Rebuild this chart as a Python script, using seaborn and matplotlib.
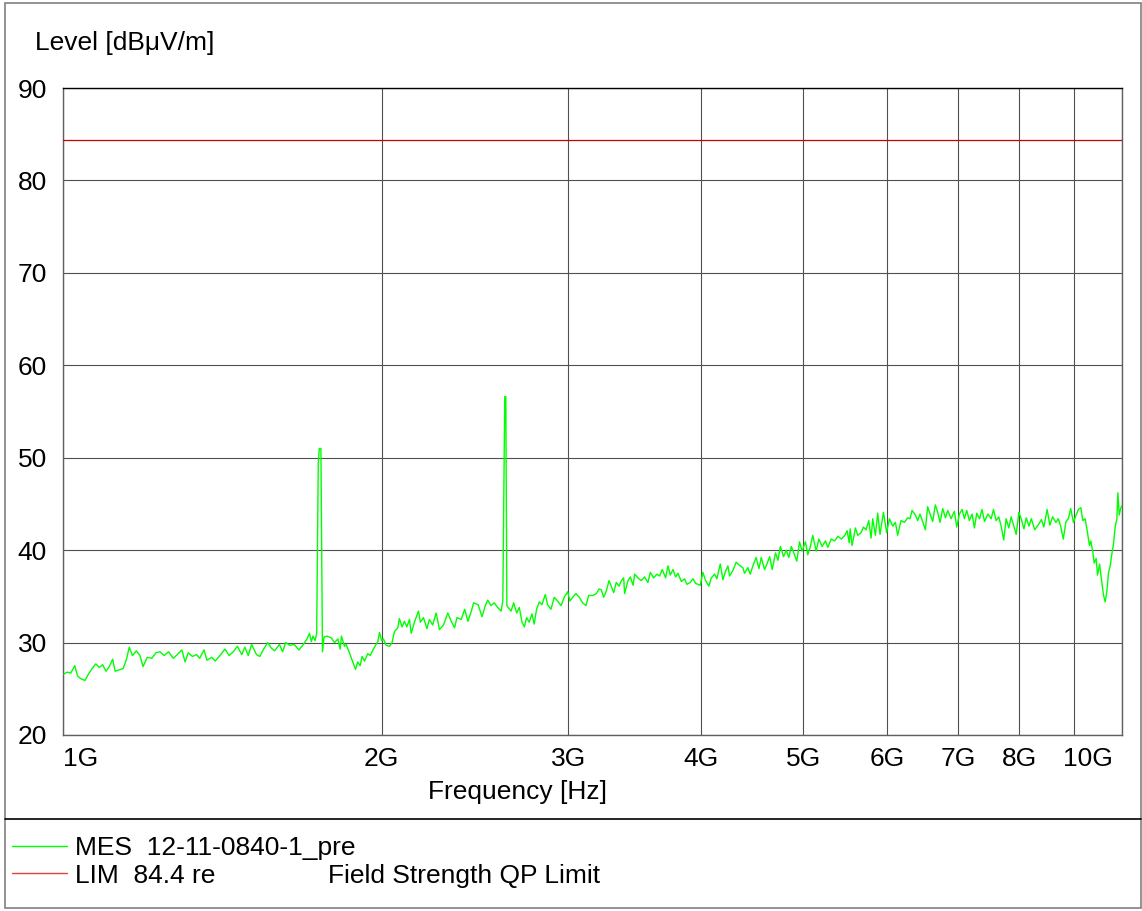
import matplotlib
matplotlib.use("Agg")
import matplotlib.pyplot as plt
import seaborn as sns
import pandas as pd
from matplotlib.lines import Line2D
from matplotlib.patches import Rectangle
from matplotlib.ticker import NullLocator

mes_freq_ghz = [
    1.002, 1.009, 1.017, 1.026, 1.032, 1.039, 1.049, 1.057, 1.064, 1.074,
    1.082, 1.090, 1.098, 1.106, 1.114, 1.120, 1.140, 1.148, 1.155, 1.163,
    1.173, 1.182, 1.190, 1.201, 1.213, 1.224, 1.235, 1.246, 1.258, 1.271,
    1.282, 1.295, 1.304, 1.313, 1.325, 1.337, 1.346, 1.359, 1.367, 1.382,
    1.392, 1.407, 1.422, 1.435, 1.448, 1.461, 1.475, 1.485, 1.496, 1.507,
    1.523, 1.534, 1.547, 1.561, 1.573, 1.584, 1.601, 1.612, 1.623, 1.637,
    1.653, 1.670, 1.684, 1.700, 1.709, 1.716, 1.722, 1.730, 1.736, 1.742,
    1.746, 1.752, 1.758, 1.764, 1.775, 1.792, 1.805, 1.818, 1.827, 1.832,
    1.844, 1.851, 1.864, 1.878, 1.889, 1.898, 1.908, 1.916, 1.926, 1.940,
    1.950, 1.964, 1.973, 1.983, 1.990, 1.999, 2.007, 2.019, 2.034, 2.045,
    2.056, 2.071, 2.078, 2.090, 2.101, 2.112, 2.124, 2.132, 2.147, 2.166,
    2.175, 2.190, 2.206, 2.218, 2.234, 2.251, 2.267, 2.287, 2.309, 2.326,
    2.343, 2.355, 2.377, 2.395, 2.412, 2.430, 2.442, 2.466, 2.487, 2.505,
    2.518, 2.536, 2.554, 2.573, 2.592, 2.602, 2.613, 2.619, 2.625, 2.649,
    2.664, 2.682, 2.697, 2.713, 2.727, 2.740, 2.756, 2.772, 2.786, 2.800,
    2.817, 2.833, 2.854, 2.868, 2.889, 2.910, 2.931, 2.953, 2.974, 2.996,
    3.011, 3.029, 3.050, 3.073, 3.095, 3.118, 3.136, 3.166, 3.189, 3.208,
    3.224, 3.240, 3.259, 3.278, 3.294, 3.311, 3.330, 3.350, 3.367, 3.384,
    3.391, 3.416, 3.433, 3.454, 3.466, 3.491, 3.516, 3.542, 3.567, 3.586,
    3.612, 3.638, 3.659, 3.680, 3.707, 3.726, 3.745, 3.767, 3.789, 3.808,
    3.836, 3.863, 3.883, 3.911, 3.934, 3.957, 3.977, 3.997, 4.020, 4.044,
    4.073, 4.094, 4.124, 4.144, 4.175, 4.199, 4.223, 4.245, 4.260, 4.291,
    4.322, 4.348, 4.385, 4.401, 4.433, 4.456, 4.488, 4.514, 4.541, 4.564,
    4.597, 4.621, 4.648, 4.674, 4.708, 4.733, 4.757, 4.791, 4.819, 4.846,
    4.872, 4.906, 4.931, 4.960, 4.988, 5.024, 5.050, 5.076, 5.105, 5.143,
    5.173, 5.210, 5.248, 5.275, 5.313, 5.354, 5.392, 5.433, 5.473, 5.501,
    5.526, 5.537, 5.561, 5.601, 5.630, 5.671, 5.699, 5.732, 5.766, 5.795,
    5.816, 5.850, 5.879, 5.909, 5.953, 5.994, 6.031, 6.074, 6.110, 6.140,
    6.185, 6.230, 6.275, 6.307, 6.335, 6.381, 6.413, 6.445, 6.483, 6.521,
    6.554, 6.588, 6.626, 6.664, 6.698, 6.733, 6.772, 6.812, 6.846, 6.896,
    6.946, 6.981, 7.022, 7.063, 7.099, 7.135, 7.176, 7.219, 7.255, 7.292,
    7.336, 7.376, 7.416, 7.470, 7.524, 7.562, 7.606, 7.650, 7.689, 7.733,
    7.773, 7.818, 7.858, 7.899, 7.945, 7.991, 8.032, 8.080, 8.121, 8.169,
    8.211, 8.272, 8.332, 8.393, 8.437, 8.498, 8.548, 8.599, 8.662, 8.706,
    8.751, 8.802, 8.853, 8.899, 8.945, 8.997, 9.050, 9.096, 9.143, 9.183,
    9.230, 9.277, 9.317, 9.344, 9.386, 9.413, 9.454, 9.482, 9.524, 9.551,
    9.579, 9.607, 9.642, 9.677, 9.712, 9.747, 9.782, 9.818, 9.853, 9.889,
    9.911, 9.940, 9.976, 10.0,
]
mes_level_db = [
    26.6, 26.8, 26.7, 27.5, 26.4, 26.1, 25.9, 26.6, 27.1, 27.7,
    27.3, 27.6, 26.9, 27.4, 28.2, 26.9, 27.2, 28.2, 29.5, 28.6,
    29.1, 28.6, 27.4, 28.4, 28.3, 28.9, 29.0, 28.6, 29.0, 28.3,
    28.7, 29.2, 27.9, 28.9, 28.5, 28.7, 28.3, 29.2, 28.1, 28.4,
    28.0, 28.6, 29.3, 28.6, 29.0, 29.6, 28.7, 29.5, 28.6, 29.8,
    28.7, 28.5, 29.3, 30.0, 29.4, 29.1, 29.8, 29.0, 30.0, 29.7,
    29.8, 29.2, 29.7, 30.4, 31.0, 30.1, 30.7, 30.2, 31.0, 49.5,
    51.0, 51.0, 29.0, 30.6, 30.7, 30.5, 30.0, 30.4, 29.3, 30.7,
    29.6, 29.8, 28.9, 27.9, 27.1, 27.9, 27.5, 28.5, 28.0, 28.8,
    28.6, 29.3, 29.7, 30.1, 31.1, 30.2, 30.4, 29.7, 29.6, 30.0,
    31.2, 31.6, 32.6, 31.7, 32.3, 31.7, 32.5, 31.0, 32.2, 33.4,
    32.2, 32.7, 31.5, 32.5, 31.9, 33.2, 31.4, 31.9, 33.2, 32.3,
    31.6, 32.7, 32.5, 33.6, 32.3, 33.4, 34.3, 34.1, 32.8, 34.0,
    34.6, 34.0, 34.3, 33.8, 33.4, 34.5, 56.6, 56.6, 34.0, 33.4,
    34.3, 33.2, 33.8, 32.2, 31.7, 32.7, 32.2, 33.1, 32.0, 33.6,
    34.4, 34.1, 35.2, 34.1, 33.6, 34.9, 34.5, 34.0, 34.9, 35.5,
    34.5, 34.9, 35.3, 34.9, 34.3, 34.0, 35.1, 35.1, 35.3, 35.8,
    35.7, 34.9, 35.6, 36.7, 36.1, 35.4, 36.5, 36.1, 36.7, 37.0,
    35.3, 36.7, 37.1, 36.2, 37.4, 37.0, 36.7, 37.1, 36.5, 37.6,
    37.0, 37.4, 37.2, 37.9, 37.0, 38.3, 37.3, 37.9, 37.1, 37.5,
    36.6, 36.9, 36.3, 36.5, 36.9, 36.4, 36.3, 36.2, 37.6, 36.7,
    36.1, 37.0, 37.4, 36.9, 38.5, 36.8, 37.7, 38.3, 37.2, 37.8,
    38.7, 38.4, 38.1, 37.5, 38.1, 37.4, 38.5, 39.2, 38.0, 39.2,
    37.9, 38.5, 39.3, 37.9, 39.7, 38.9, 40.4, 39.3, 40.0, 39.2,
    40.4, 39.5, 38.8, 40.9, 39.9, 40.9, 39.5, 40.3, 41.6, 39.9,
    41.2, 40.4, 41.0, 40.3, 41.2, 41.0, 41.5, 41.2, 41.6, 42.1,
    40.8, 42.3, 40.5, 42.4, 41.6, 41.9, 42.5, 42.2, 43.2, 41.3,
    43.4, 41.6, 44.0, 41.7, 44.1, 41.9, 43.4, 42.6, 43.0, 41.6,
    43.2, 43.0, 43.5, 43.4, 44.3, 43.8, 43.2, 43.9, 43.1, 42.2,
    44.7, 43.9, 43.1, 44.9, 44.1, 43.0, 44.5, 43.5, 44.3, 43.4,
    44.2, 42.5, 43.9, 44.4, 43.4, 44.3, 43.2, 43.9, 42.4, 44.0,
    43.4, 44.4, 43.1, 43.9, 43.4, 44.4, 43.2, 43.6, 42.6, 41.1,
    43.4, 42.4, 43.6, 42.7, 41.7, 44.1, 43.4, 42.3, 43.5, 42.6,
    43.4, 42.2, 42.7, 43.3, 42.5, 44.4, 42.7, 43.6, 43.0, 43.4,
    42.6, 41.2, 43.1, 43.4, 44.5, 43.0, 43.8, 44.4, 44.6, 43.2,
    43.4, 41.9, 40.5, 41.0, 39.8, 38.6, 39.1, 37.3, 38.5, 37.3,
    36.2, 35.1, 34.4, 35.6, 37.6, 38.3, 39.6, 40.7, 42.5, 43.4,
    46.2, 43.8, 44.6, 44.8,
]

# limit line
lim_freq_ghz = [1.0, 10.0]
lim_level_db = [84.4, 84.4]

y_ticks = [20, 30, 40, 50, 60, 70, 80, 90]
x_ticks = [1, 2, 3, 4, 5, 6, 7, 8, 9, 10]
x_tick_labels = ['1G', '2G', '3G', '4G', '5G', '6G', '7G', '8G', '', '']

sns.set_theme(style='white')
plt.rcParams['font.family'] = ['Liberation Sans', 'DejaVu Sans']
plt.rcParams['text.color'] = 'black'
plt.rcParams['xtick.color'] = 'black'
plt.rcParams['ytick.color'] = 'black'

W, H = 1142, 911
FS = 19

fig = plt.figure(figsize=(W / 100, H / 100), dpi=100)
ax = fig.add_axes([63 / W, 1 - 735 / H, (1122 - 63) / W, (735 - 88) / H])

mes = pd.DataFrame({'freq': mes_freq_ghz, 'level': mes_level_db})
sns.lineplot(data=mes, x='freq', y='level', color='#00ff00', lw=1.0,
             estimator=None, sort=False, ax=ax, zorder=3)
sns.lineplot(x=lim_freq_ghz, y=lim_level_db, color='#c80000', lw=0.9,
             estimator=None, ax=ax, zorder=3)

ax.set_xscale('log')
ax.set_xlim(1, 10)
ax.set_ylim(20, 90)
ax.set_xticks(x_ticks)
ax.set_xticklabels(x_tick_labels)
ax.xaxis.set_minor_locator(NullLocator())
ax.set_yticks(y_ticks)
ax.tick_params(axis='both', length=0, labelsize=FS, labelcolor='black')
ax.tick_params(axis='x', pad=9)
ax.tick_params(axis='y', pad=11.5)
ax.get_xticklabels()[0].set_ha('left')
ax.grid(True, color='#505050', lw=0.8)
ax.set_xlabel('')
ax.set_ylabel('')
for side in ['left', 'bottom', 'right']:
    ax.spines[side].set_color('#606060')
    ax.spines[side].set_linewidth(1.0)
ax.spines['top'].set_color('black')
ax.spines['top'].set_linewidth(1.0)

ax.annotate('10G', xy=(1, 0), xycoords='axes fraction', xytext=(-9, -12.5),
            textcoords='offset pixels', ha='right', va='top', fontsize=FS,
            color='black')

fig.text(35 / W, 1 - 43 / H, 'Level [dBμV/m]', ha='left', va='center', fontsize=FS)
fig.text(518 / W, 1 - 792 / H, 'Frequency [Hz]', ha='center', va='center', fontsize=FS)

# frame and legend block
fig.patches.append(Rectangle((5 / W, 1 - 908 / H), (1141 - 5) / W, (908 - 3) / H,
                             transform=fig.transFigure, fill=False,
                             ec='#808080', lw=1.2))
fig.lines.append(Line2D([5 / W, 1141 / W], [1 - 819 / H] * 2, color='black',
                        lw=1.2, transform=fig.transFigure))
fig.lines.append(Line2D([12 / W, 67 / W], [1 - 846 / H] * 2, color='#00ff00',
                        lw=1.0, transform=fig.transFigure))
fig.lines.append(Line2D([12 / W, 67 / W], [1 - 873 / H] * 2, color='#e04040',
                        lw=1.0, transform=fig.transFigure))
fig.text(75 / W, 1 - 848 / H, 'MES  12-11-0840-1_pre', ha='left', va='center', fontsize=FS)
fig.text(75 / W, 1 - 876 / H, 'LIM  84.4 re', ha='left', va='center', fontsize=FS)
fig.text(328 / W, 1 - 876 / H, 'Field Strength QP Limit', ha='left', va='center', fontsize=FS)

fig.savefig('out.png', dpi=100)
